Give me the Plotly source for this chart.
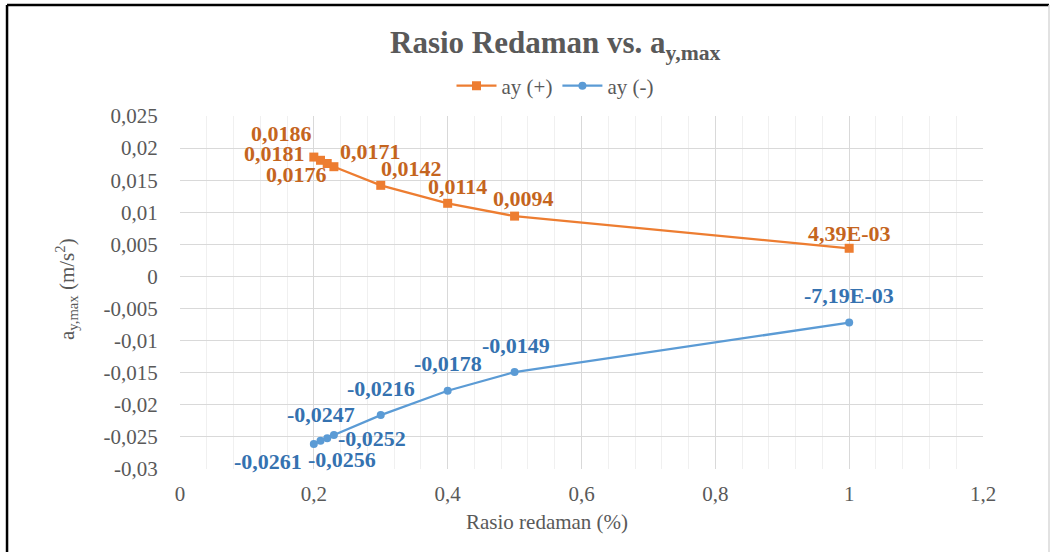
import plotly.graph_objects as go

# ---- data ----
rasio = [0.2, 0.21, 0.22, 0.23, 0.3, 0.4, 0.5, 1.0]
ay_pos = [0.0186, 0.0181, 0.0176, 0.0171, 0.0142, 0.0114, 0.0094, 0.00439]
ay_neg = [-0.0261, -0.0256, -0.0252, -0.0247, -0.0216, -0.0178, -0.0149, -0.00719]
lbl_pos = ["0,0186", "0,0181", "0,0176", "0,0171", "0,0142", "0,0114", "0,0094", "4,39E-03"]
lbl_neg = ["-0,0261", "-0,0256", "-0,0252", "-0,0247", "-0,0216", "-0,0178", "-0,0149", "-7,19E-03"]
x_ticks = [0, 0.2, 0.4, 0.6, 0.8, 1.0, 1.2]
x_ticktext = ["0", "0,2", "0,4", "0,6", "0,8", "1", "1,2"]
y_ticks = [0.025, 0.02, 0.015, 0.01, 0.005, 0, -0.005, -0.01, -0.015, -0.02, -0.025, -0.03]
y_ticktext = ["0,025", "0,02", "0,015", "0,01", "0,005", "0", "-0,005", "-0,01", "-0,015",
              "-0,02", "-0,025", "-0,03"]

# label pixel offsets (dx right, dy down)
off_pos = [(-32, -24), (-46, -7), (-31, 11), (37, -15), (31, -17), (10, -17), (9, -18), (0, -15)]
off_neg = [(-46, 18), (21, 19), (45, 0), (-13, -20), (0, -27), (0, -27), (1, -27), (0, -27)]

ORANGE = "#ED7D31"
BLUE = "#5B9BD5"
ORANGE_T = "#C5651E"
BLUE_T = "#3572B0"
GRAY = "#595959"
FONT = "Liberation Serif"

fig = go.Figure()
fig.add_trace(go.Scatter(x=rasio, y=ay_pos, mode="lines+markers", name="ay (+)",
                         line=dict(color=ORANGE, width=2.25),
                         marker=dict(symbol="square", size=9, color=ORANGE)))
fig.add_trace(go.Scatter(x=rasio, y=ay_neg, mode="lines+markers", name="ay (-)",
                         line=dict(color=BLUE, width=2.25),
                         marker=dict(symbol="circle", size=8, color=BLUE)))

annotations = []
for xv, yv, t, (dx, dy) in zip(rasio, ay_pos, lbl_pos, off_pos):
    annotations.append(dict(x=xv, y=yv, text=t, showarrow=False, xshift=dx, yshift=-dy,
                            xanchor="center", yanchor="middle",
                            font=dict(family=FONT, size=22, color=ORANGE_T, weight="bold")))
for xv, yv, t, (dx, dy) in zip(rasio, ay_neg, lbl_neg, off_neg):
    annotations.append(dict(x=xv, y=yv, text=t, showarrow=False, xshift=dx, yshift=-dy,
                            xanchor="center", yanchor="middle",
                            font=dict(family=FONT, size=22, color=BLUE_T, weight="bold")))

# axis titles
annotations.append(dict(xref="paper", yref="paper", x=0.457, y=-0.150, showarrow=False,
                        xanchor="center", yanchor="middle",
                        text="Rasio redaman (%)", font=dict(family=FONT, size=21, color=GRAY)))
annotations.append(dict(xref="paper", yref="paper", x=-0.1407, y=0.51, showarrow=False,
                        xanchor="center", yanchor="middle",
                        textangle=-90, text="a<sub>y,max</sub> (m/s<sup>2</sup>)",
                        font=dict(family=FONT, size=21, color=GRAY)))
# title
annotations.append(dict(xref="paper", yref="paper", x=0.467, y=1.2, xanchor="center",
                        yanchor="middle", showarrow=False,
                        text="<b>Rasio Redaman vs. a<sub>y,max</sub></b>",
                        font=dict(family=FONT, size=31, color=GRAY)))

shapes = [
    dict(type="line", xref="paper", yref="paper", x0=-0.2154, x1=1.0822, y0=1.3144, y1=1.3144,
         line=dict(color="#000000", width=2.5)),
    dict(type="line", xref="paper", yref="paper", x0=-0.2154, x1=-0.2154, y0=1.3144, y1=-0.24,
         line=dict(color="#000000", width=2.5)),
    dict(type="line", xref="paper", yref="paper", x0=1.0822, x1=1.0822, y0=1.3144, y1=-0.24,
         line=dict(color="#D9D9D9", width=1.5)),
]

fig.update_layout(
    width=1051, height=552,
    margin=dict(l=180, r=68, t=116, b=83),
    paper_bgcolor="white", plot_bgcolor="white",
    font=dict(family=FONT, size=21, color=GRAY),
    showlegend=True,
    legend=dict(orientation="h", x=0.467, xanchor="center", y=1.085, yanchor="middle",
                font=dict(family=FONT, size=21, color=GRAY), bgcolor="rgba(0,0,0,0)",
                itemwidth=40, tracegroupgap=0),
    annotations=annotations,
    shapes=shapes,
    xaxis=dict(range=[0, 1.2], tickvals=x_ticks, ticktext=x_ticktext, showgrid=True,
               gridcolor="#D9D9D9", gridwidth=1, zeroline=False, showline=False,
               ticks="outside", ticklen=6, tickcolor="rgba(0,0,0,0)",
               minor=dict(dtick=0.04, tick0=0, showgrid=True, gridcolor="#F0F0F0", gridwidth=1),
               tickfont=dict(family=FONT, size=21, color=GRAY)),
    yaxis=dict(range=[-0.03, 0.025], tickvals=y_ticks, ticktext=y_ticktext, showgrid=True,
               gridcolor="#D9D9D9", gridwidth=1, zeroline=False, showline=False,
               ticks="outside", ticklen=17, tickcolor="rgba(0,0,0,0)",
               tickfont=dict(family=FONT, size=21, color=GRAY)),
)

fig.write_html("out.html", config={"displayModeBar": False},
               post_script="document.body.style.margin='0';")
